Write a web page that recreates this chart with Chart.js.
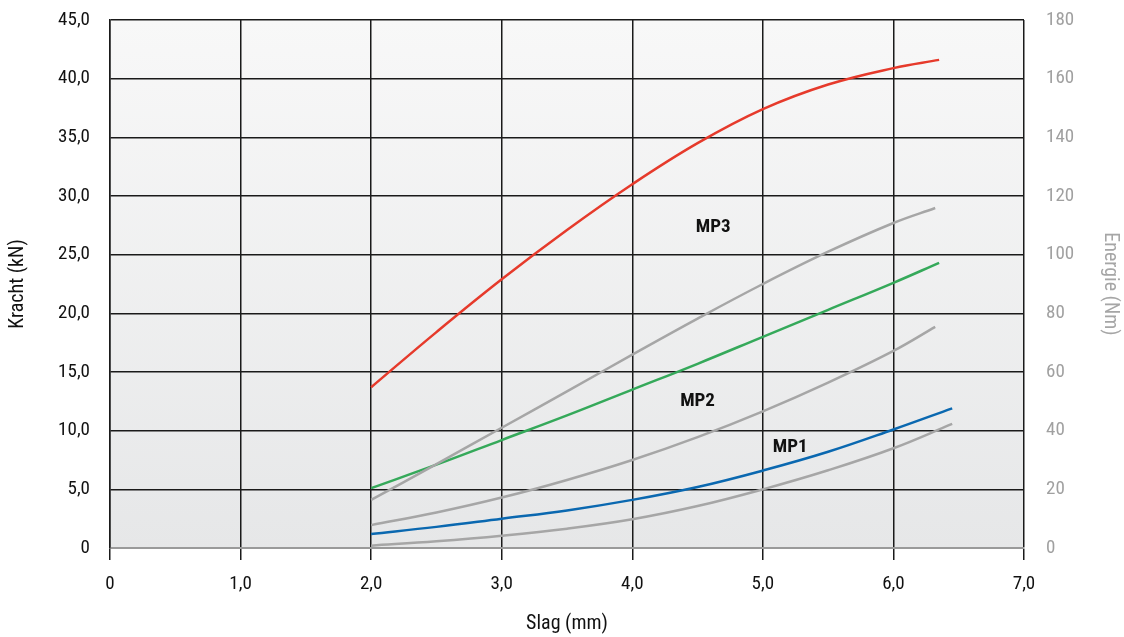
<!DOCTYPE html>
<html>
<head>
<meta charset="utf-8">
<script src="https://cdn.jsdelivr.net/npm/chart.js@4.4.1/dist/chart.umd.min.js"></script>
<style>
  html, body { margin: 0; padding: 0; background: #ffffff; }
  #wrap { width: 1124px; height: 637px; position: relative; }
</style>
</head>
<body>
<div id="wrap"><canvas id="c" width="1124" height="637"></canvas></div>
<script>
// ---- Data ----
const xTickLabels = ['0', '1,0', '2,0', '3,0', '4,0', '5,0', '6,0', '7,0'];
const forceTickLabels = ['0', '5,0', '10,0', '15,0', '20,0', '25,0', '30,0', '35,0', '40,0', '45,0'];
const energyTickLabels = ['0', '20', '40', '60', '80', '100', '120', '140', '160', '180'];

// Force curves (kN, left axis)
const mp3ForceX = [2.0, 2.5, 3.0, 3.5, 4.0, 4.5, 5.0, 5.5, 6.0, 6.35];
const mp3Force  = [13.7, 18.4, 22.9, 27.1, 31.0, 34.5, 37.4, 39.5, 40.9, 41.6];
const mp2ForceX = [2.0, 2.5, 3.0, 3.5, 4.0, 4.5, 5.0, 5.5, 6.0, 6.35];
const mp2Force  = [5.1, 7.1, 9.2, 11.3, 13.5, 15.7, 18.0, 20.3, 22.6, 24.3];
const mp1ForceX = [2.0, 2.5, 3.0, 3.5, 4.0, 4.5, 5.0, 5.5, 6.0, 6.45];
const mp1Force  = [1.2, 1.8, 2.5, 3.2, 4.1, 5.2, 6.6, 8.2, 10.1, 11.9];

// Energy curves (Nm, right axis)
const mp3EnergyX = [2.0, 2.5, 3.0, 3.5, 4.0, 4.5, 5.0, 5.5, 6.0, 6.32];
const mp3Energy  = [16.4, 28.6, 41.0, 53.4, 65.9, 78.2, 90.0, 101.0, 110.8, 115.9];
const mp2EnergyX = [2.0, 2.5, 3.0, 3.5, 4.0, 4.5, 5.0, 5.5, 6.0, 6.32];
const mp2Energy  = [7.8, 12.1, 17.2, 23.2, 30.0, 37.8, 46.6, 56.4, 67.2, 75.4];
const mp1EnergyX = [2.0, 2.5, 3.0, 3.5, 4.0, 4.5, 5.0, 5.5, 6.0, 6.45];
const mp1Energy  = [0.8, 2.3, 4.2, 6.6, 9.8, 14.3, 20.0, 26.5, 34.0, 42.3];

// Curve labels
const curveLabels = ['MP3', 'MP2', 'MP1'];
const curveLabelX = [4.62, 4.50, 5.21];
const curveLabelY = [27.3, 12.5, 8.6];

// ---- Helpers ----
const pts = (xs, ys) => xs.map((x, i) => ({ x: x, y: ys[i] }));
const FONT = "'Roboto Condensed', 'DejaVu Sans Condensed', 'Liberation Sans Narrow', sans-serif";
const GRAY = '#a6a6a6';

const bgPlugin = {
  id: 'bg',
  beforeDraw(chart) {
    const { ctx, chartArea: a } = chart;
    const g = ctx.createLinearGradient(0, a.top, 0, a.bottom);
    g.addColorStop(0, '#f8f8f8');
    g.addColorStop(1, '#e6e7e8');
    ctx.save();
    ctx.fillStyle = g;
    ctx.fillRect(a.left, a.top, a.right - a.left, a.bottom - a.top);
    ctx.restore();
  }
};

const labelPlugin = {
  id: 'curveLabels',
  afterDatasetsDraw(chart) {
    const { ctx, scales } = chart;
    ctx.save();
    ctx.font = "bold 19px " + FONT;
    ctx.fillStyle = '#111111';
    ctx.textAlign = 'center';
    ctx.textBaseline = 'middle';
    curveLabels.forEach((t, i) => {
      ctx.fillText(t, scales.x.getPixelForValue(curveLabelX[i]), scales.y.getPixelForValue(curveLabelY[i]));
    });
    ctx.restore();
  }
};

const lineDs = (data, color, axis) => ({
  data: data,
  borderColor: color,
  borderWidth: 2.5,
  pointRadius: 0,
  fill: false,
  tension: 0.4,
  yAxisID: axis
});

function fixV(width) {
  return function (s) { s.width = width; s.paddingTop = 0; s.paddingBottom = 0; };
}

new Chart(document.getElementById('c'), {
  type: 'line',
  data: {
    datasets: [
      lineDs(pts(mp1EnergyX, mp1Energy), GRAY, 'y2'),
      lineDs(pts(mp2EnergyX, mp2Energy), GRAY, 'y2'),
      lineDs(pts(mp3EnergyX, mp3Energy), GRAY, 'y2'),
      lineDs(pts(mp1ForceX, mp1Force), '#0a68b0', 'y'),
      lineDs(pts(mp2ForceX, mp2Force), '#35a95a', 'y'),
      lineDs(pts(mp3ForceX, mp3Force), '#e63a2b', 'y')
    ]
  },
  options: {
    responsive: false,
    animation: false,
    devicePixelRatio: 1,
    layout: { padding: { top: 20, left: 0, right: 0, bottom: 0 } },
    plugins: { legend: { display: false }, tooltip: { enabled: false } },
    scales: {
      x: {
        type: 'linear',
        min: 0, max: 7,
        afterFit(s) { s.height = 89; s.paddingLeft = 0; s.paddingRight = 0; },
        ticks: {
          stepSize: 1,
          padding: 13,
          color: '#111111',
          font: { family: FONT, size: 19 },
          callback: (v) => xTickLabels[Math.round(v)]
        },
        grid: { color: '#1a1a1a', lineWidth: 1.5, tickLength: 12, tickColor: '#1a1a1a', tickWidth: 1.5, drawTicks: true },
        border: { display: true, color: '#9a9a9a', width: 2 },
        title: { display: true, text: 'Slag (mm)', color: '#111111', font: { family: FONT, size: 20 }, padding: { top: 0, bottom: 1 } }
      },
      y: {
        type: 'linear',
        position: 'left',
        min: 0, max: 45,
        afterFit: fixV(110),
        ticks: {
          stepSize: 5,
          padding: 20,
          color: '#111111',
          font: { family: FONT, size: 19 },
          callback: (v) => forceTickLabels[Math.round(v / 5)]
        },
        grid: {
          drawTicks: false,
          lineWidth: 1.5,
          color: (c) => (c.tick && c.tick.value === 0) ? '#9a9a9a' : '#1a1a1a'
        },
        border: { display: true, color: '#1a1a1a', width: 1.5 },
        title: { display: true, text: 'Kracht (kN)', color: '#111111', font: { family: FONT, size: 20 }, padding: { top: 6, bottom: 0 } }
      },
      y2: {
        type: 'linear',
        position: 'right',
        min: 0, max: 180,
        afterFit: fixV(100),
        ticks: {
          stepSize: 20,
          padding: 22,
          color: '#a0a0a0',
          font: { family: FONT, size: 19 },
          callback: (v) => energyTickLabels[Math.round(v / 20)]
        },
        grid: { display: false, drawTicks: false },
        border: { display: false },
        title: { display: true, text: 'Energie (Nm)', color: '#a6a6a6', font: { family: FONT, size: 20 }, padding: { top: 2, bottom: 0 } }
      }
    }
  },
  plugins: [bgPlugin, labelPlugin]
});
</script>
</body>
</html>
